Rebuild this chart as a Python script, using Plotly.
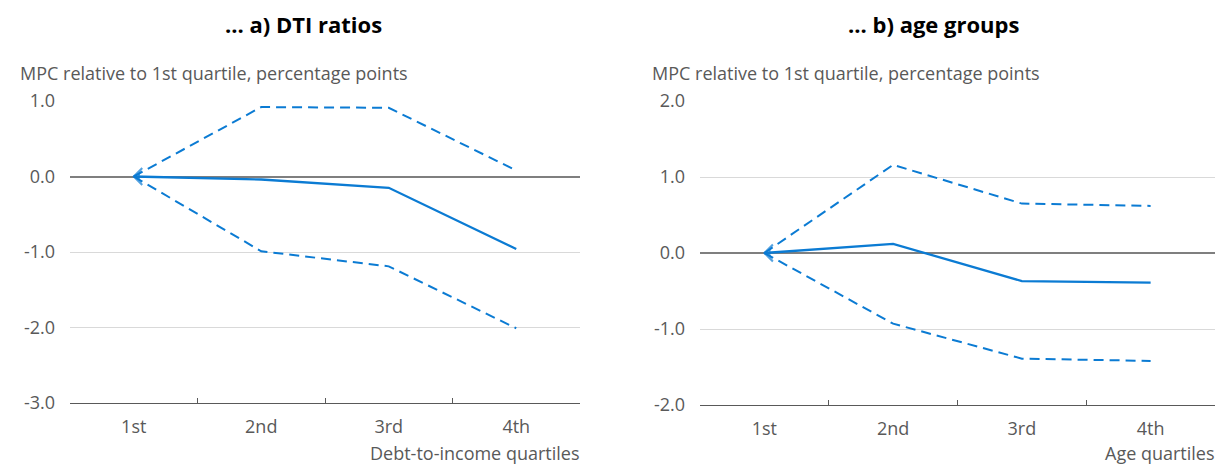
import plotly.graph_objects as go

quartiles = ["1st", "2nd", "3rd", "4th"]

dti_mid = [0.0, -0.04, -0.15, -0.96]
dti_upper = [0.0, 0.92, 0.91, 0.08]
dti_lower = [0.0, -0.99, -1.19, -2.01]

age_mid = [0.0, 0.12, -0.37, -0.39]
age_upper = [0.0, 1.16, 0.65, 0.62]
age_lower = [0.0, -0.93, -1.39, -1.42]

dti_ticks = [1.0, 0.0, -1.0, -2.0, -3.0]
age_ticks = [2.0, 1.0, 0.0, -1.0, -2.0]

BLUE = "#0b7bd3"
GREY = "#595959"
FONT = "Open Sans"
FS = 18

# page has an 8px body margin; work in target-pixel coordinates and subtract it
OFF = 8
W = 1225 - OFF
H = 465 - OFF

def px(x):
    return (x - OFF) / W

def py(y):
    return 1 - (y - OFF) / H

fig = go.Figure()

def add_panel(xa, ya, mid, up, lo):
    for vals in (up, lo):
        fig.add_trace(go.Scatter(x=quartiles, y=vals, xaxis=xa, yaxis=ya, mode="lines",
                                 line=dict(color=BLUE, width=2, dash="10px,6px"),
                                 showlegend=False, hoverinfo="skip"))
    fig.add_trace(go.Scatter(x=quartiles, y=mid, xaxis=xa, yaxis=ya, mode="lines+markers",
                             line=dict(color=BLUE, width=2.3),
                             marker=dict(symbol="arrow-wide-open", angle=-90,
                                         size=[12, 0, 0, 0], color=BLUE,
                                         line=dict(color=BLUE, width=2)),
                             showlegend=False, hoverinfo="skip"))

add_panel("x", "y", dti_mid, dti_upper, dti_lower)
add_panel("x2", "y2", age_mid, age_upper, age_lower)

def fmt(v):
    return f"{v:.1f}"

xcommon = dict(type="category", range=[-0.5, 3.5], showgrid=False, tickson="boundaries",
               ticks="inside", ticklen=5, tickcolor=GREY, showline=True, linecolor=GREY,
               linewidth=1.2, tickfont=dict(family=FONT, size=FS, color=GREY), zeroline=False,
               fixedrange=True, automargin=False, ticklabelstandoff=7)
ycommon = dict(showgrid=True, gridcolor="#d9d9d9", gridwidth=1, zeroline=True,
               zerolinecolor="#7f7f7f", zerolinewidth=1.5, showline=False, ticks="",
               tickfont=dict(family=FONT, size=FS, color=GREY), ticklabelstandoff=14,
               automargin=False, fixedrange=True)

fig.update_layout(
    width=W, height=H, autosize=False,
    margin=dict(l=0, r=0, t=0, b=0, pad=0),
    paper_bgcolor="white", plot_bgcolor="white",
    xaxis=dict(domain=[px(70), px(580)], anchor="y", **xcommon),
    yaxis=dict(domain=[py(403), py(101)], anchor="x", range=[-3, 1],
               tickvals=dti_ticks, ticktext=[fmt(v) for v in dti_ticks], **ycommon),
    xaxis2=dict(domain=[px(700), px(1215)], anchor="y2", **xcommon),
    yaxis2=dict(domain=[py(405), py(101)], anchor="x2", range=[-2, 2],
                tickvals=age_ticks, ticktext=[fmt(v) for v in age_ticks], **ycommon),
)

TS = 22
ann = []
ann.append(dict(text="<b>... a) DTI ratios</b>", x=px(303), y=py(24), xref="paper", yref="paper",
                showarrow=False, font=dict(family=FONT, size=TS, color="black"), xanchor="center", yanchor="middle"))
ann.append(dict(text="<b>... b) age groups</b>", x=px(933), y=py(24), xref="paper", yref="paper",
                showarrow=False, font=dict(family=FONT, size=TS, color="black"), xanchor="center", yanchor="middle"))
for x0 in (18, 650):
    ann.append(dict(text="MPC relative to 1st quartile, percentage points", x=px(x0), y=py(73),
                    xref="paper", yref="paper", showarrow=False, xanchor="left", yanchor="middle",
                    font=dict(family=FONT, size=FS, color=GREY)))
ann.append(dict(text="Debt-to-income quartiles", x=px(582), y=py(453), xref="paper", yref="paper",
                showarrow=False, xanchor="right", yanchor="middle", font=dict(family=FONT, size=FS, color=GREY)))
ann.append(dict(text="Age quartiles", x=px(1217), y=py(453), xref="paper", yref="paper",
                showarrow=False, xanchor="right", yanchor="middle", font=dict(family=FONT, size=FS, color=GREY)))
fig.update_layout(annotations=ann)

fig.write_html("out.html")
